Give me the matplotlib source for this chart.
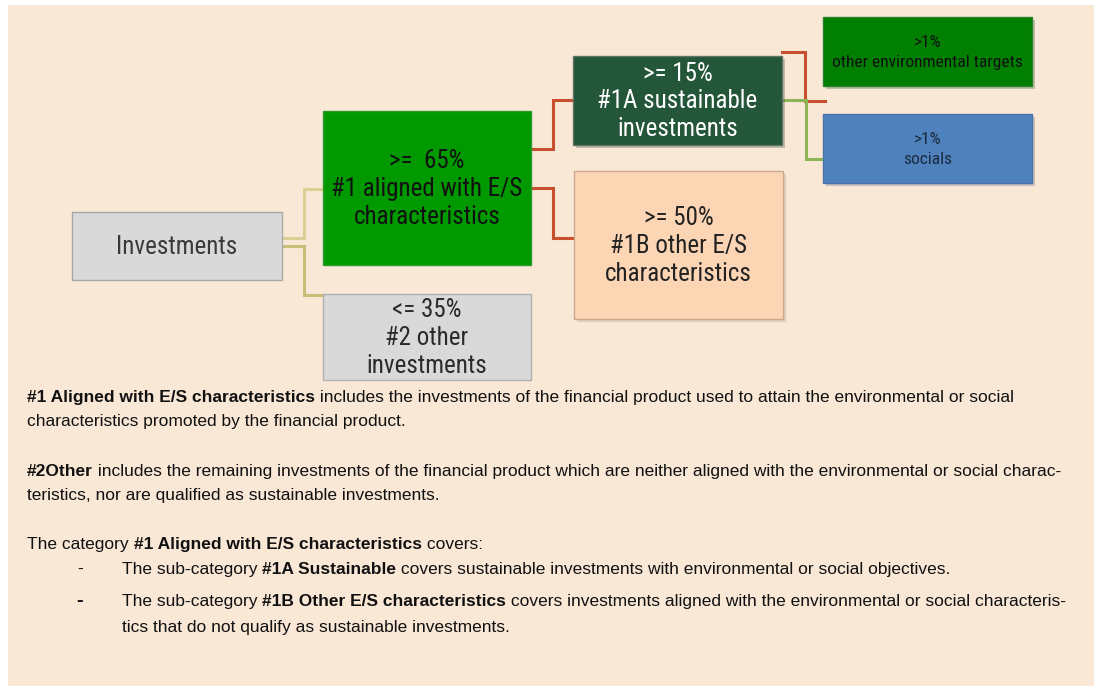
import matplotlib
matplotlib.use('Agg')
import matplotlib.pyplot as plt
import matplotlib.patheffects as pe
from matplotlib import font_manager
from matplotlib.patches import Rectangle


def pick_font(names):
    # first family from the list that is actually installed
    for name in names:
        try:
            font_manager.findfont(font_manager.FontProperties(family=name), fallback_to_default=False)
            return name
        except Exception:
            continue
    return 'DejaVu Sans'


NARROW = pick_font(['Liberation Sans Narrow', 'Arial Narrow', 'Roboto Condensed', 'DejaVu Sans'])
BODY = pick_font(['Liberation Sans', 'Arial', 'DejaVu Sans'])

# ---- data ----
node_names = ['Investments', '#1 aligned with E/S\ncharacteristics', '#2 other\ninvestments',
              '#1A sustainable\ninvestments', '#1B other E/S\ncharacteristics',
              'other environmental targets', 'socials']
node_shares = ['', '>=  65%', '<= 35%', '>= 15%', '>= 50%', '>1%', '>1%']
links = [(0, 1), (0, 2), (1, 3), (1, 4), (3, 5), (3, 6)]

text_lines = [
    [('#1 Aligned with E/S characteristics', True),
     (' includes the investments of the financial product used to attain the environmental or social', False)],
    [('characteristics promoted by the financial product.', False)],
    [('#2Other', True),
     (' includes the remaining investments of the financial product which are neither aligned with the environmental or social charac-', False)],
    [('teristics, nor are qualified as sustainable investments.', False)],
    [('The category ', False), ('#1 Aligned with E/S characteristics', True), (' covers:', False)],
    [('The sub-category ', False), ('#1A Sustainable', True),
     (' covers sustainable investments with environmental or social objectives.', False)],
    [('The sub-category ', False), ('#1B Other E/S characteristics', True),
     (' covers investments aligned with the environmental or social characteris-', False)],
    [('tics that do not qualify as sustainable investments.', False)],
]

# ---- layout (pixels) ----
boxes = [(72, 212, 210, 68), (323, 111, 208, 154), (323, 294, 208, 86),
         (573, 56, 209, 89), (574, 171, 209, 148), (823, 17, 209, 69), (823, 114, 209, 69)]
box_fill = ['#D9D9D9', '#009A00', '#D9D9D9', '#24563A', '#FCD5B5', '#007F00', '#4F81BD']
box_edge = ['#A8A8A8', '#2C9B2C', '#B0B0B0', '#5E7466', '#C9A98E', '#2C7F2C', '#4A72A6']
text_col = ['#3A3A3A', '#111111', '#2A2A2A', '#FFFFFF', '#222222', '#111111', '#1B2A3D']
text_size = [18, 18, 18, 18, 18, 12.5, 12.5]
line_sp = [1.2, 1.22, 1.22, 1.2, 1.22, 1.45, 1.45]
shadow = [False, False, False, True, True, True, True]

link_paths = [
    [(282, 238), (304, 238), (304, 189), (323, 189)],
    [(282, 246), (304, 246), (304, 295), (323, 295)],
    [(531, 149), (553, 149), (553, 100), (573, 100)],
    [(531, 188), (553, 188), (553, 238), (574, 238)],
    [(782, 52), (805, 52), (805, 101), (825, 101)],
    [(782, 100), (806, 100), (806, 159), (823, 159)],
]
link_col = ['#DCCF95', '#C9BD78', '#C9502F', '#C9502F', '#C9502F', '#8DB457']

line_y = [396, 420, 470, 494, 543, 568, 600, 626]
line_x = [27, 27, 27, 27, 27, 122, 122, 122]
BODY_SIZE = 12.5

fig = plt.figure(figsize=(10.94, 6.86), dpi=100, facecolor='white')
ax = fig.add_axes([0, 0, 1, 1])
ax.set_xlim(0, 1094)
ax.set_ylim(686, 0)
ax.axis('off')

ax.add_patch(Rectangle((8, 5), 1094 - 8, 686 - 5, facecolor='#FAE8D7', edgecolor='none', zorder=0))

for (a, b), path, col in zip(links, link_paths, link_col):
    xs = [p[0] for p in path]
    ys = [p[1] for p in path]
    ax.plot(xs, ys, color=col, lw=2.2, solid_joinstyle='miter', zorder=1)

for i, name in enumerate(node_names):
    x, y, w, h = boxes[i]
    effects = [pe.SimplePatchShadow(offset=(2, -2.5), alpha=0.25, rho=0.6), pe.Normal()] if shadow[i] else None
    ax.add_patch(Rectangle((x, y), w, h, facecolor=box_fill[i], edgecolor=box_edge[i], lw=1.0,
                           zorder=2, path_effects=effects))
    label = name if not node_shares[i] else node_shares[i] + '\n' + name
    ax.text(x + w / 2, y + h / 2 + 1, label, ha='center', va='center', ma='center',
            fontsize=text_size[i], family=NARROW, color=text_col[i], linespacing=line_sp[i], zorder=3)

fig.canvas.draw()
renderer = fig.canvas.get_renderer()


def rich_line(x, y, parts):
    for s, bold in parts:
        t = ax.text(x, y, s, ha='left', va='baseline', fontsize=BODY_SIZE, family=BODY,
                    fontweight='bold' if bold else 'normal', color='#111111', zorder=3)
        bb = t.get_window_extent(renderer)
        x += bb.width


for parts, x, y in zip(text_lines, line_x, line_y):
    rich_line(x, y + 6, parts)

# list dashes
ax.text(77, 568 + 6, '-', fontsize=BODY_SIZE, family=BODY, color='#111111', va='baseline')
ax.text(76, 600 + 6, '-', fontsize=BODY_SIZE + 2, family=BODY, fontweight='bold', color='#111111', va='baseline')

fig.savefig('out.png', dpi=100, facecolor='white')
